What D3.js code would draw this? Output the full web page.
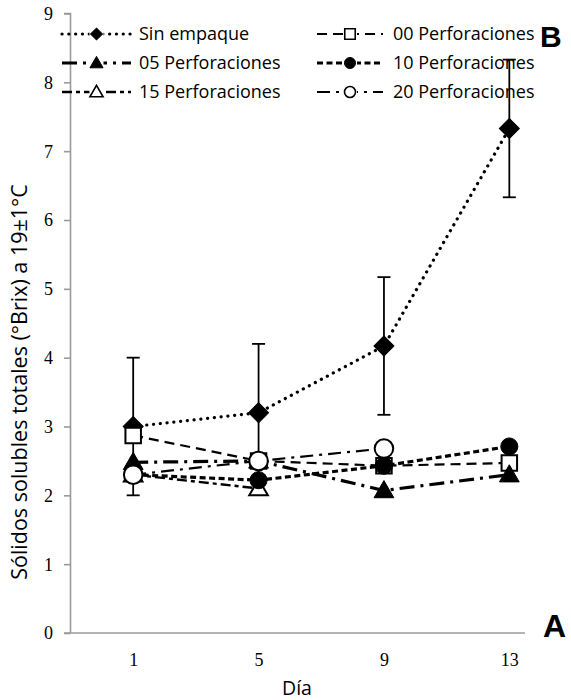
<!DOCTYPE html>
<html>
<head>
<meta charset="utf-8">
<script src="https://cdn.jsdelivr.net/npm/d3@7"></script>
<style>
  html, body { margin: 0; padding: 0; background: #fff; }
  svg { display: block; }
</style>
</head>
<body>
<svg id="chart" width="571" height="700"></svg>
<script>
// Days of storage
const days = [1, 5, 9, 13];
const dayLabels = ["1", "5", "9", "13"];
const yTicks = [0, 1, 2, 3, 4, 5, 6, 7, 8, 9];

// Total soluble solids (°Brix) per treatment; null = no measurement
const sinEmpaque    = [3.0, 3.2, 4.17, 7.33];
const sinEmpaqueErr = [1.0, 1.0, 1.0, 1.0];
const perf00 = [2.87, 2.5, 2.43, 2.47];
const perf05 = [2.48, 2.5, 2.07, 2.3];
const perf10 = [2.3, 2.22, 2.43, 2.71];
const perf15 = [2.3, 2.1, null, null];
const perf20 = [2.3, 2.5, 2.68, null];

const seriesNames = ["Sin empaque", "00 Perforaciones", "05 Perforaciones",
                     "10 Perforaciones", "15 Perforaciones", "20 Perforaciones"];

const svg = d3.select("#chart");
const axisColor = "#9a9a9a";

const x = d3.scaleLinear().domain([-1, 13.5]).range([70.5, 525]);
const y = d3.scaleLinear().domain([0, 9]).range([633, 13.5]);

// Axes
const yAxis = d3.axisLeft(y).tickValues(yTicks).tickSize(6.5).tickPadding(11).tickFormat(d3.format("d"));
const gy = svg.append("g").attr("transform", `translate(${x(-1)},0)`).call(yAxis);
gy.select(".domain").attr("stroke", axisColor).attr("stroke-width", 1.6)
  .attr("d", `M-6.5,${y(9)}H0V${y(0)}`);
gy.selectAll(".tick line").attr("stroke", axisColor).attr("stroke-width", 1.6);
gy.selectAll(".tick text").attr("font-family", "Liberation Serif").attr("font-size", 18)
  .attr("fill", "#000").attr("dy", "0.33em");

svg.append("line")
  .attr("x1", x(-1) - 6.5).attr("x2", x(13.5))
  .attr("y1", y(0)).attr("y2", y(0))
  .attr("stroke", axisColor).attr("stroke-width", 1.6);

const xAxis = d3.axisBottom(x).tickValues(days).tickSize(0).tickPadding(20)
  .tickFormat((d, i) => dayLabels[i]);
const gx = svg.append("g").attr("transform", `translate(0,${y(0)})`).call(xAxis);
gx.select(".domain").remove();
gx.selectAll(".tick text").attr("font-family", "Liberation Serif").attr("font-size", 18)
  .attr("fill", "#000");

// Axis titles
svg.append("text")
  .attr("transform", `translate(27,382) rotate(-90)`)
  .attr("text-anchor", "middle")
  .attr("font-family", "Open Sans").attr("font-size", 21.5)
  .text("Sólidos solubles totales (°Brix) a 19±1°C");

svg.append("text")
  .attr("x", 297).attr("y", 695)
  .attr("text-anchor", "middle")
  .attr("font-family", "Open Sans").attr("font-size", 19.5)
  .text("Día");

// Panel letters
svg.append("text").attr("x", 540).attr("y", 47)
  .attr("font-family", "Liberation Sans").attr("font-weight", "bold").attr("font-size", 30)
  .text("B");
svg.append("text").attr("x", 543).attr("y", 637)
  .attr("font-family", "Liberation Sans").attr("font-weight", "bold").attr("font-size", 32)
  .text("A");

// Series styles; "order" sets the stacking of the marks in the plot
const series = [
  { name: seriesNames[0], values: sinEmpaque, dash: "0.1,6.7", width: 3.2, cap: "round",
    symbol: d3.symbolSquare, rotate: 45, size: 200, legendSize: 70, fill: "#000", order: 0 },
  { name: seriesNames[1], values: perf00, dash: "10,6", width: 2.2, cap: "butt",
    symbol: d3.symbolSquare, rotate: 0, size: 240, legendSize: 110, fill: "#fff", order: 1 },
  { name: seriesNames[2], values: perf05, dash: "15,6,3,6", width: 3.2, cap: "butt",
    symbol: d3.symbolTriangle, rotate: 0, size: 170, legendSize: 75, fill: "#000", order: 2 },
  { name: seriesNames[3], values: perf10, dash: "6,3.5", width: 3.2, cap: "butt",
    symbol: d3.symbolCircle, rotate: 0, size: 230, legendSize: 95, fill: "#000", order: 4 },
  { name: seriesNames[4], values: perf15, dash: "10,4,4,4", width: 2.4, cap: "butt",
    symbol: d3.symbolTriangle, rotate: 0, size: 150, legendSize: 75, fill: "#fff", order: 3 },
  { name: seriesNames[5], values: perf20, dash: "13,6,3,6", width: 2.2, cap: "butt",
    symbol: d3.symbolCircle, rotate: 0, size: 270, legendSize: 95, fill: "#fff", order: 5 }
];

const line = d3.line()
  .defined(d => d.v !== null)
  .x(d => x(d.day)).y(d => y(d.v));

const plot = svg.append("g");
const markerTransform = (s, px, py) =>
  `translate(${px},${py + (s.symbol === d3.symbolTriangle ? 1.5 : 0)}) rotate(${s.rotate})`;

series.slice().sort((a, b) => a.order - b.order).forEach(s => {
  const pts = days.map((day, i) => ({ day, v: s.values[i] }));
  const g = plot.append("g");
  g.append("path")
    .attr("d", line(pts))
    .attr("fill", "none").attr("stroke", "#000")
    .attr("stroke-width", s.width).attr("stroke-dasharray", s.dash)
    .attr("stroke-linecap", s.cap);

  if (s.values === sinEmpaque) {
    // error bars for the unpackaged control
    const eb = g.selectAll(".err").data(pts).join("g");
    eb.append("line")
      .attr("x1", d => x(d.day)).attr("x2", d => x(d.day))
      .attr("y1", (d, i) => y(d.v + sinEmpaqueErr[i]))
      .attr("y2", (d, i) => y(d.v - sinEmpaqueErr[i]))
      .attr("stroke", "#000").attr("stroke-width", 1.8);
    [1, -1].forEach(sign => {
      eb.append("line")
        .attr("x1", d => x(d.day) - 6.5).attr("x2", d => x(d.day) + 6.5)
        .attr("y1", (d, i) => y(d.v + sign * sinEmpaqueErr[i]))
        .attr("y2", (d, i) => y(d.v + sign * sinEmpaqueErr[i]))
        .attr("stroke", "#000").attr("stroke-width", 1.8);
    });
  }

  g.selectAll(".mk").data(pts.filter(d => d.v !== null)).join("path")
    .attr("transform", d => markerTransform(s, x(d.day), y(d.v)))
    .attr("d", d3.symbol().type(s.symbol).size(s.size))
    .attr("fill", s.fill).attr("stroke", "#000").attr("stroke-width", s.fill === "#fff" ? 2 : 1);
});

// Legend (two columns, three rows)
const legendCols = [{ x0: 62, x1: 131, tx: 139 }, { x0: 317, x1: 383, tx: 393 }];
const legendRows = [34, 63, 92];
const legend = svg.append("g");
series.forEach((s, i) => {
  const col = legendCols[i % 2];
  const ry = legendRows[Math.floor(i / 2)];
  const g = legend.append("g");
  g.append("line")
    .attr("x1", col.x0).attr("x2", col.x1).attr("y1", ry).attr("y2", ry)
    .attr("stroke", "#000").attr("stroke-width", s.width)
    .attr("stroke-dasharray", s.dash).attr("stroke-linecap", s.cap);
  const cx = (col.x0 + col.x1) / 2;
  g.append("rect").attr("x", cx - 7).attr("y", ry - 7).attr("width", 14).attr("height", 14)
    .attr("fill", "#fff");
  g.append("path")
    .attr("transform", `translate(${cx},${ry + (s.symbol === d3.symbolTriangle ? 1 : 0)}) rotate(${s.rotate})`)
    .attr("d", d3.symbol().type(s.symbol).size(s.legendSize))
    .attr("fill", s.fill).attr("stroke", "#000").attr("stroke-width", s.fill === "#fff" ? 1.6 : 1);
  g.append("text")
    .attr("x", col.tx).attr("y", ry).attr("dy", "0.35em")
    .attr("font-family", "Open Sans").attr("font-size", 18)
    .text(s.name);
});
</script>
</body>
</html>
